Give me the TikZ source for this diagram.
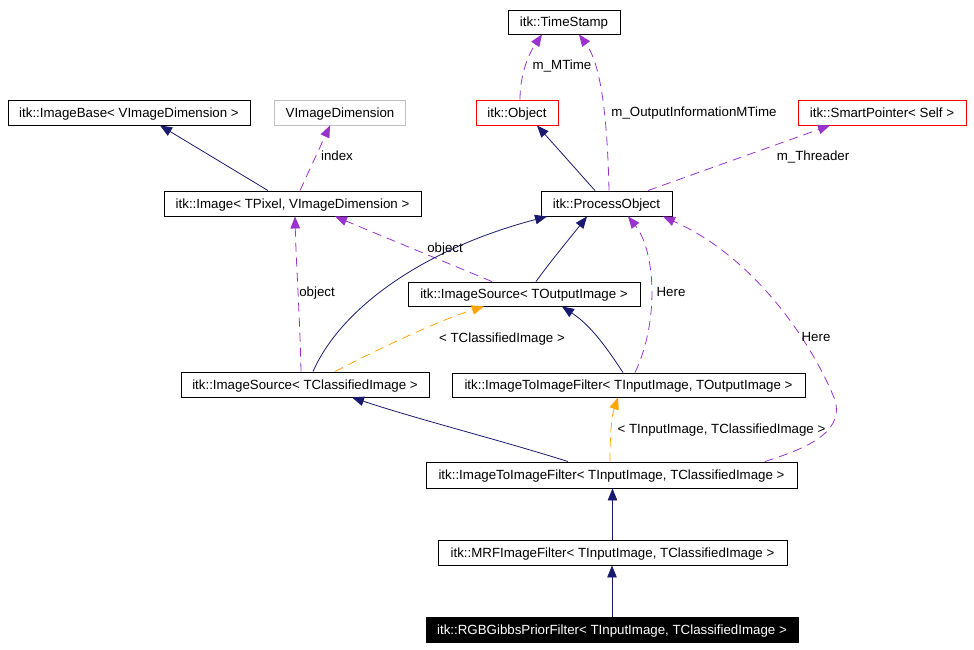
\documentclass[tikz,border=0pt]{standalone}
\usepackage{fontspec}
\setmainfont{Liberation Sans}
\usetikzlibrary{arrows.meta}
\definecolor{navyc}{RGB}{25,25,112}
\definecolor{purplec}{RGB}{154,50,205}
\definecolor{orangec}{RGB}{255,165,0}
\definecolor{grayc}{RGB}{191,191,191}
\tikzset{
  cls/.style={draw=black, line width=0.9pt, fill=white, inner sep=0pt, minimum height=25pt, text height=12pt, text depth=2.5pt},
  redcls/.style={cls, draw=red},
  graycls/.style={cls, draw=grayc},
  selcls/.style={cls, fill=black, text=white},
  inherit/.style={draw=navyc, line width=0.8pt, -{Triangle[length=12pt,width=9.5pt]}},
  usage/.style={draw=purplec, line width=0.8pt, dash pattern=on 9pt off 6pt, -{Triangle[length=12pt,width=9.5pt]}},
  templ/.style={draw=orangec, line width=0.8pt, dash pattern=on 9pt off 6pt, -{Triangle[length=12pt,width=9.5pt]}},
  lbl/.style={inner sep=0pt, text height=12pt, text depth=2.5pt}
}
\begin{document}
\begin{tikzpicture}[x=1pt, y=-1pt, font=\fontsize{13.3}{15}\selectfont]
\useasboundingbox (0,0) rectangle (974,650);
% nodes
\node[cls, minimum width=112pt, minimum height=24pt] (ts) at (564,22) {itk::TimeStamp};
\node[cls, minimum width=242pt] (ib) at (129,112.5) {itk::ImageBase< VImageDimension >};
\node[graycls, minimum width=131pt] (vd) at (340,112.5) {VImageDimension};
\node[redcls, minimum width=82pt] (obj) at (517,112.5) {itk::Object};
\node[redcls, minimum width=168pt] (sp) at (882,112.5) {itk::SmartPointer< Self >};
\node[cls, minimum width=257pt] (img) at (292.5,203.5) {itk::Image< TPixel, VImageDimension >};
\node[cls, minimum width=131pt] (po) at (606.5,203.5) {itk::ProcessObject};
\node[cls, minimum width=232pt, minimum height=24pt] (iso) at (524,294) {itk::ImageSource< TOutputImage >};
\node[cls, minimum width=248pt] (isc) at (305,384.5) {itk::ImageSource< TClassifiedImage >};
\node[cls, minimum width=353pt, minimum height=24pt] (itio) at (628.5,385) {itk::ImageToImageFilter< TInputImage, TOutputImage >};
\node[cls, minimum width=371pt, minimum height=26pt] (itic) at (611.5,475) {itk::ImageToImageFilter< TInputImage, TClassifiedImage >};
\node[cls, minimum width=349pt] (mrf) at (612.5,552.5) {itk::MRFImageFilter< TInputImage, TClassifiedImage >};
\node[selcls, minimum width=372pt] (rgb) at (612,629.5) {itk::RGBGibbsPriorFilter< TInputImage, TClassifiedImage >};
% edges
\draw[inherit] ([xshift=-24.5pt]img.north) -- ([xshift=31pt]ib.south);
\draw[usage] ([xshift=7.5pt]img.north) -- ([xshift=-10pt]vd.south);
\draw[usage] ([xshift=3pt]obj.north) .. controls (520,72) and (530,52) .. ([xshift=-22pt]ts.south);
\draw[usage] ([xshift=2.5pt]po.north) .. controls (607,100) and (598,60) .. ([xshift=15pt]ts.south);
\draw[inherit] ([xshift=-11.5pt]po.north) -- ([xshift=20pt]obj.south);
\draw[usage] ([xshift=41.5pt]po.north) -- ([xshift=-52pt]sp.south);
\draw[usage] ([xshift=-32pt]iso.north) -- ([xshift=42.5pt]img.south);
\draw[inherit] ([xshift=12pt]iso.north) .. controls (550,262) and (570,238) .. ([xshift=-19.5pt]po.south);
\draw[usage] ([xshift=-4pt]isc.north) .. controls (300,320) and (296,260) .. ([xshift=2.5pt]img.south);
\draw[inherit] ([xshift=8pt]isc.north) .. controls (340,310) and (420,250) .. ([xshift=-59.5pt]po.south);
\draw[templ] ([xshift=30pt]isc.north) .. controls (380,348) and (440,320) .. ([xshift=-40pt]iso.south);
\draw[inherit] ([xshift=-5.5pt]itio.north) .. controls (605,345) and (590,325) .. ([xshift=38pt]iso.south);
\draw[usage] ([xshift=6.5pt]itio.north) .. controls (660,320) and (655,250) .. ([xshift=21.5pt]po.south);
\draw[inherit] ([xshift=-43.5pt]itic.north) .. controls (500,440) and (420,420) .. ([xshift=47pt]isc.south);
\draw[templ] ([xshift=-1.5pt]itic.north) .. controls (610,430) and (612,415) .. ([xshift=-10.5pt]itio.south);
\draw[usage] ([xshift=153.5pt]itic.north) .. controls (800,450) and (845,435) .. (835,400)
  .. controls (815,350) and (760,260) .. ([xshift=56.5pt]po.south);
\draw[inherit] (mrf.north) -- (mrf.north |- itic.south);
\draw[inherit] (rgb.north) -- (rgb.north |- mrf.south);
% labels
\node[lbl] (l1) at (337,156) {index};
\node[lbl] (l2) at (562,65) {m\_MTime};
\node[lbl] (l3) at (694,112) {m\_OutputInformationMTime};
\node[lbl] (l4) at (813,156) {m\_Threader};
\node[lbl] (l5) at (445,248) {object};
\node[lbl] (l6) at (317,292) {object};
\node[lbl] (l7) at (671,292) {Here};
\node[lbl] (l8) at (502,338) {< TClassifiedImage >};
\node[lbl] (l9) at (816,337) {Here};
\node[lbl] (l10) at (721.5,429) {< TInputImage, TClassifiedImage >};
\end{tikzpicture}
\end{document}
